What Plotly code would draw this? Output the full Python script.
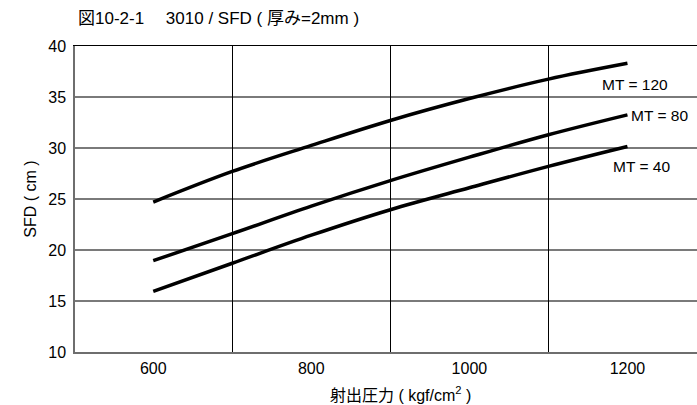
import plotly.graph_objects as go

pressure = [600, 700, 800, 900, 1000, 1100, 1200]
mt120 = [24.7, 27.7, 30.25, 32.7, 34.85, 36.75, 38.3]
mt80 = [18.95, 21.6, 24.3, 26.8, 29.1, 31.3, 33.25]
mt40 = [15.95, 18.7, 21.45, 23.95, 26.1, 28.2, 30.15]

x_ticks = [600, 800, 1000, 1200]
x_grid = [700, 900, 1100]
y_ticks = [10, 15, 20, 25, 30, 35, 40]

FONT = "Liberation Sans, Arial, Noto Sans CJK JP, sans-serif"

fig = go.Figure()
for name, vals in [("MT = 120", mt120), ("MT = 80", mt80), ("MT = 40", mt40)]:
    fig.add_trace(go.Scatter(x=pressure, y=vals, mode="lines", name=name,
                             line=dict(color="black", width=3.5, shape="spline")))

# invisible trace to activate the grid axis
fig.add_trace(go.Scatter(x=[pressure[0]], y=[mt40[0]], xaxis="x2", mode="markers",
                         marker=dict(opacity=0), showlegend=False, hoverinfo="skip"))

xr = [501, 1288]
fig.update_layout(
    width=697, height=405,
    margin=dict(l=75, r=0, t=46, b=53),
    paper_bgcolor="white", plot_bgcolor="white",
    showlegend=False,
    font=dict(family=FONT, color="black", size=16),
    title=dict(text="図10-2-1　 3010 / SFD ( 厚み=2mm )", xref="container", yref="container",
               x=78/697, xanchor="left", y=1-18/405, yanchor="middle",
               font=dict(size=17, family=FONT, color="black")),
    xaxis=dict(range=xr, tickvals=x_ticks, showgrid=False, zeroline=False,
               showline=True, linecolor="#6e6e6e", linewidth=1.5, ticks="",
               tickfont=dict(size=16), ticklabelstandoff=1),
    xaxis2=dict(range=xr, overlaying="x", side="top", tickvals=x_grid, showticklabels=False,
                showgrid=True, gridcolor="black", gridwidth=1, zeroline=False,
                showline=True, linecolor="black", linewidth=1, ticks=""),
    yaxis=dict(range=[10, 40], tickvals=y_ticks, showgrid=True, gridcolor="#7a7a7a", gridwidth=1.5,
               zeroline=False, showline=True, linecolor="#6e6e6e", linewidth=1.5, ticks="",
               tickfont=dict(size=16), ticklabelstandoff=4,
               title=dict(text="SFD ( cm )", font=dict(size=16), standoff=8)),
)

fig.add_annotation(xref="paper", yref="paper", x=(400 - 75) / 622, y=-(394 - 352) / 306,
                   text="射出圧力 ( kgf/cm<sup>2</sup> )", showarrow=False,
                   xanchor="center", yanchor="middle", font=dict(size=16))

fig.add_annotation(x=1209, y=36.2, text="MT = 120", showarrow=False, xanchor="center",
                   yanchor="middle", font=dict(size=15.5))
fig.add_annotation(x=1202, y=33.2, text="MT = 80", showarrow=False, xanchor="left",
                   yanchor="middle", font=dict(size=15.5))
fig.add_annotation(x=1218, y=28.2, text="MT = 40", showarrow=False, xanchor="center",
                   yanchor="middle", font=dict(size=15.5))

fig.write_html("out.html")
